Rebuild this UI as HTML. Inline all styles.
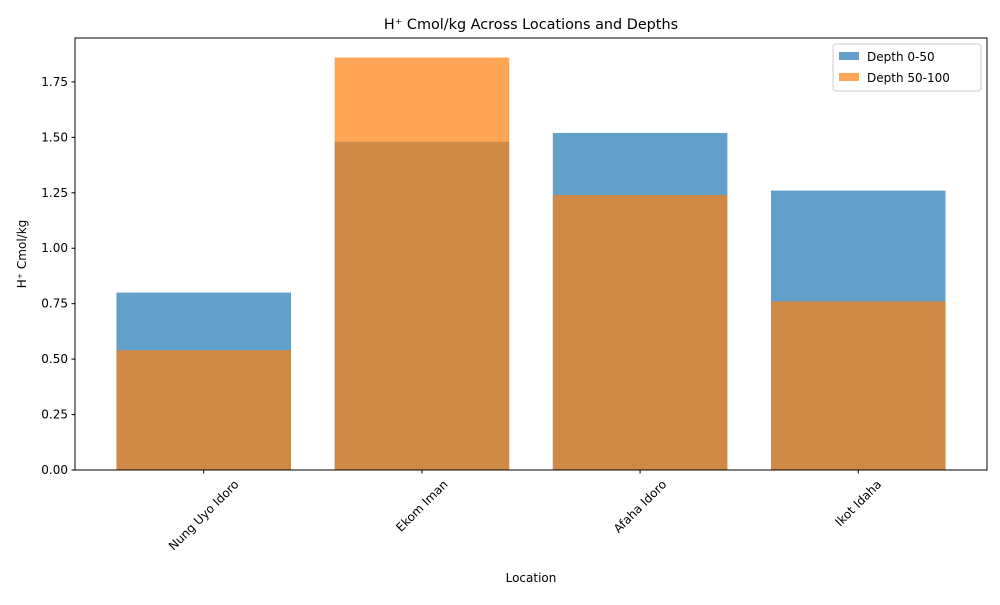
<!DOCTYPE html>
<html><head><meta charset="utf-8"><style>
body{margin:0;background:#fff;font-family:"Liberation Sans","DejaVu Sans",sans-serif;}
svg text{font-family:"DejaVu Sans","Liberation Sans",sans-serif;}
</style></head><body>
<svg id="chart" width="1000" height="600" xmlns="http://www.w3.org/2000/svg">
<rect width="1000" height="600" fill="#fff"/>
<text x="531" y="29" font-size="14.4" text-anchor="middle">H⁺ Cmol/kg Across Locations and Depths</text>
<g id="bars"></g>
<g id="axes"></g>
<text x="531" y="582" font-size="12" text-anchor="middle">Location</text>
<text transform="translate(26,254) rotate(-90)" font-size="12" text-anchor="middle">H⁺ Cmol/kg</text>
<g>
<rect x="833" y="44" width="148" height="47" rx="3" fill="#fff" fill-opacity="0.8" stroke="#ccc"/>
<rect x="839" y="52" width="20" height="8" fill="#1f77b4" fill-opacity="0.7"/>
<text x="867" y="61" font-size="12">Depth 0-50</text>
<rect x="839" y="73" width="20" height="8" fill="#ff7f0e" fill-opacity="0.7"/>
<text x="867" y="82" font-size="12">Depth 50-100</text>
</g>
</svg>
<script>
const categories = ["Nung Uyo Idoro","Ekom Iman","Afaha Idoro","Ikot Idaha"];
const depth0_50 = [0.80,1.48,1.52,1.26];
const depth50_100 = [0.54,1.86,1.24,0.76];
const yTicks = [0,0.25,0.5,0.75,1.0,1.25,1.5,1.75];
const yTickLabels = ["0.00","0.25","0.50","0.75","1.00","1.25","1.50","1.75"];

const NS="http://www.w3.org/2000/svg";
const L=75,R=987,T=38,B=470;
const xmin=-0.59,xmax=categories.length-1+0.59;
const ymax=1.948;
function x(v){return L+(v-xmin)/(xmax-xmin)*(R-L);}
function y(v){return B-v/ymax*(B-T);}
function mk(tag,attrs,parent){const e=document.createElementNS(NS,tag);for(const k in attrs)e.setAttribute(k,attrs[k]);parent.appendChild(e);return e;}
const bars=document.getElementById('bars'), axes=document.getElementById('axes');
const bw=0.8;
[[depth0_50,'#1f77b4','depth-0-50'],[depth50_100,'#ff7f0e','depth-50-100']].forEach(([s,c,n])=>{
  s.forEach((v,i)=>{
    const r=mk('rect',{x:x(i-bw/2),y:y(v),width:x(i+bw/2)-x(i-bw/2),height:B-y(v),fill:c,'fill-opacity':0.7},bars);
    
    
  });
});
const frame=mk('rect',{x:L,y:T,width:R-L,height:B-T,fill:'none',stroke:'#000','stroke-width':1},axes);


yTicks.forEach((v,i)=>{
  mk('line',{x1:L-3.5,x2:L,y1:y(v),y2:y(v),stroke:'#000'},axes);
  const t=mk('text',{x:L-7,y:y(v)+4,'font-size':12,'text-anchor':'end'},axes);
  t.textContent=yTickLabels[i];
  
  
});
categories.forEach((c,i)=>{
  mk('line',{x1:x(i),x2:x(i),y1:B,y2:B+3.5,stroke:'#000'},axes);
  const t=mk('text',{'font-size':12,'text-anchor':'middle'},axes);
  t.textContent=c;
  
  
  const len=t.getComputedTextLength();
  const half=(len+12)*0.7071/2;
  t.setAttribute('transform',`translate(${x(i)},${B+8+half}) rotate(-45)`);
  t.setAttribute('dy','4');
});
</script>
</body></html>
